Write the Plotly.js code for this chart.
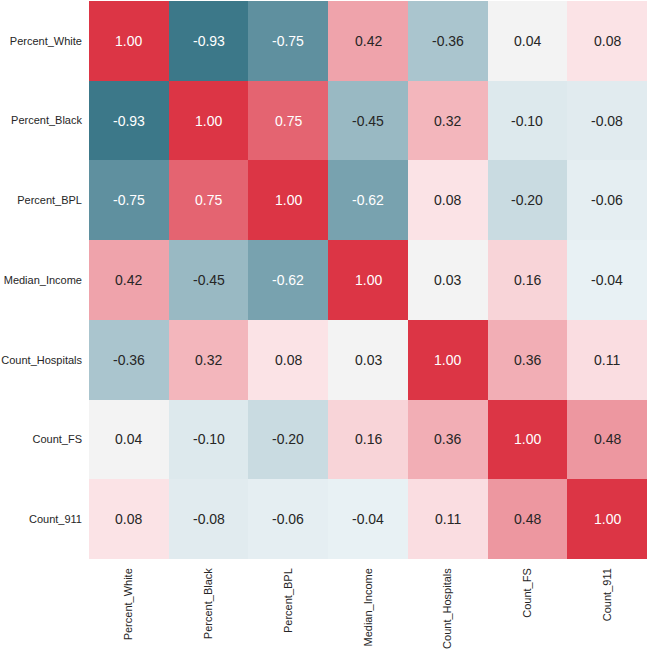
<!DOCTYPE html>
<html>
<head>
<meta charset="utf-8">
<script src="https://cdn.plot.ly/plotly-3.0.1.min.js"></script>
<style>html,body{margin:0;padding:0;background:#fff;}#chart{width:649px;height:650px;}</style>
</head>
<body>
<div id="chart"></div>
<script>
const labels = ["Percent_White","Percent_Black","Percent_BPL","Median_Income","Count_Hospitals","Count_FS","Count_911"];
const rowWhite     = [1.00,-0.93,-0.75, 0.42,-0.36, 0.04, 0.08];
const rowBlack     = [-0.93,1.00, 0.75,-0.45, 0.32,-0.10,-0.08];
const rowBPL       = [-0.75,0.75, 1.00,-0.62, 0.08,-0.20,-0.06];
const rowIncome    = [0.42,-0.45,-0.62, 1.00, 0.03, 0.16,-0.04];
const rowHospitals = [-0.36,0.32, 0.08, 0.03, 1.00, 0.36, 0.11];
const rowFS        = [0.04,-0.10,-0.20, 0.16, 0.36, 1.00, 0.48];
const row911       = [0.08,-0.08,-0.06,-0.04, 0.11, 0.48, 1.00];
const matrix = [rowWhite,rowBlack,rowBPL,rowIncome,rowHospitals,rowFS,row911];

const colorscale = [
  [0.0,   "rgb(46,110,129)"],
  [0.484, "rgb(234,242,245)"],
  [0.485, "rgb(242,242,242)"],
  [0.523, "rgb(243,243,243)"],
  [0.524, "rgb(252,233,236)"],
  [1.0,   "rgb(220,53,69)"]
];

const annotations = [];
matrix.forEach((row, i) => {
  row.forEach((v, j) => {
    annotations.push({
      x: labels[j], y: labels[i], xref: "x", yref: "y",
      text: v.toFixed(2), showarrow: false,
      font: {family: "Liberation Sans, Arial, sans-serif", size: 14,
             color: Math.abs(v) > 0.5 ? "#ffffff" : "#262626"}
    });
  });
});

const trace = {
  type: "heatmap",
  z: matrix, x: labels, y: labels,
  zmin: -1, zmax: 1, zmid: 0,
  colorscale: colorscale,
  showscale: false, xgap: 0, ygap: 0,
  hoverinfo: "skip"
};

const layout = {
  width: 649, height: 650,
  margin: {l: 89, r: 2, t: 1, b: 91},
  paper_bgcolor: "#ffffff", plot_bgcolor: "#ffffff",
  font: {family: "Liberation Sans, Arial, sans-serif", size: 11, color: "#262626"},
  xaxis: {tickangle: -90, showgrid: false, zeroline: false, showline: false,
          ticks: "", ticklabelstandoff: 6, tickfont: {size: 11, color: "#262626"}},
  yaxis: {autorange: "reversed", showgrid: false, zeroline: false, showline: false,
          ticks: "", ticklabelstandoff: 6, tickfont: {size: 11, color: "#262626"}},
  annotations: annotations
};

Plotly.newPlot("chart", [trace], layout, {displayModeBar: false, staticPlot: true});
</script>
</body>
</html>
